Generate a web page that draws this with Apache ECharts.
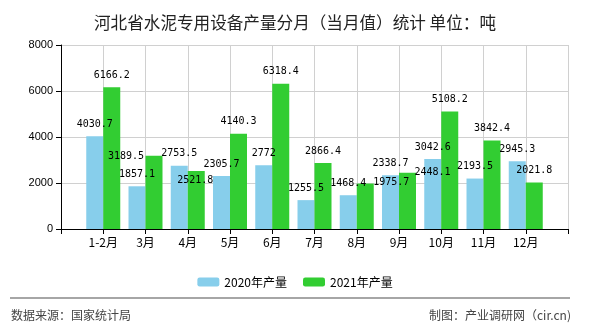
<!DOCTYPE html>
<html>
<head>
<meta charset="utf-8">
<script src="https://cdn.jsdelivr.net/npm/echarts@6/dist/echarts.min.js"></script>
<style>html,body{margin:0;padding:0;background:#fff}#c{width:590px;height:330px}</style>
</head>
<body>
<div id="c"></div>
<script>
const categories = ['1-2月','3月','4月','5月','6月','7月','8月','9月','10月','11月','12月'];
const values2020 = [4030.7, 1857.1, 2753.5, 2305.7, 2772, 1255.5, 1468.4, 2338.7, 3042.6, 2193.5, 2945.3];
const values2021 = [6166.2, 3189.5, 2521.8, 4140.3, 6318.4, 2866.4, 1975.7, 2448.1, 5108.2, 3842.4, 2021.8];
const seriesNames = ['2020年产量', '2021年产量'];
const yTicks = [0, 2000, 4000, 6000, 8000];

// label nudges (layout only), keyed by category index
const labelNudge2021 = {1: [-28, 13], 2: [-1, 21], 6: [26, 11], 7: [25, 12]};

const cats = [''].concat(categories, ['']);
function pad(arr, nudge) {
  const out = [null];
  arr.forEach((v, i) => {
    if (nudge && nudge[i]) out.push({value: v, label: {offset: nudge[i]}});
    else out.push(v);
  });
  out.push(null);
  return out;
}

const labelStyle = {
  show: true, position: 'top', distance: 7, color: '#000',
  fontFamily: '"DejaVu Sans Mono", monospace', fontSize: 10
};

const chart = echarts.init(document.getElementById('c'));
chart.setOption({
  animation: false,
  backgroundColor: '#fff',
  title: {
    text: '河北省水泥专用设备产量分月（当月值）统计 单位：吨',
    left: 'center', top: 9,
    textStyle: {fontFamily: '"Noto Sans CJK SC"', fontSize: 16.6, fontWeight: 'normal', color: '#222'}
  },
  legend: {
    data: seriesNames,
    left: 'center', top: 271,
    itemWidth: 22, itemHeight: 9, itemGap: 16,
    textStyle: {fontFamily: '"Noto Sans CJK SC"', fontSize: 12, color: '#000'}
  },
  grid: {left: 61, right: 22, top: 45, bottom: 101, containLabel: false, outerBoundsMode: 'none'},
  xAxis: {
    type: 'category', data: cats, boundaryGap: false,
    axisLine: {lineStyle: {color: '#000', width: 1}},
    axisTick: {show: true, length: 5, lineStyle: {color: '#000'}},
    axisLabel: {color: '#000', fontFamily: '"Noto Sans CJK SC"', fontSize: 12, margin: 7, interval: 0},
    splitLine: {show: true, lineStyle: {color: '#d0d0d0', width: 1}}
  },
  yAxis: {
    type: 'value', min: yTicks[0], max: yTicks[yTicks.length - 1], interval: yTicks[1] - yTicks[0],
    axisLine: {show: true, lineStyle: {color: '#000', width: 1}},
    axisTick: {show: true, length: 5, lineStyle: {color: '#000'}},
    axisLabel: {color: '#000', fontFamily: '"Liberation Sans"', fontSize: 11, margin: 8,
                formatter: function (v) { return String(v); }},
    splitLine: {show: true, lineStyle: {color: '#d0d0d0', width: 1}}
  },
  series: [
    {name: seriesNames[0], type: 'bar', data: pad(values2020), barWidth: 17, barGap: '0%',
     itemStyle: {color: '#87CEEB'}, label: labelStyle},
    {name: seriesNames[1], type: 'bar', data: pad(values2021, labelNudge2021), barWidth: 17, barGap: '0%',
     itemStyle: {color: '#32CD32'}, label: labelStyle}
  ],
  graphic: [
    {type: 'line', shape: {x1: 10, y1: 298, x2: 570, y2: 298}, style: {stroke: '#888', lineWidth: 1.5}},
    {type: 'text', left: 11, top: 309, style: {text: '数据来源：国家统计局', font: '12px "Noto Sans CJK SC"', fill: '#444'}},
    {type: 'text', right: 19, top: 309, style: {text: '制图：产业调研网（cir.cn)', font: '12px "Noto Sans CJK SC"', fill: '#444'}}
  ]
});
</script>
</body>
</html>
